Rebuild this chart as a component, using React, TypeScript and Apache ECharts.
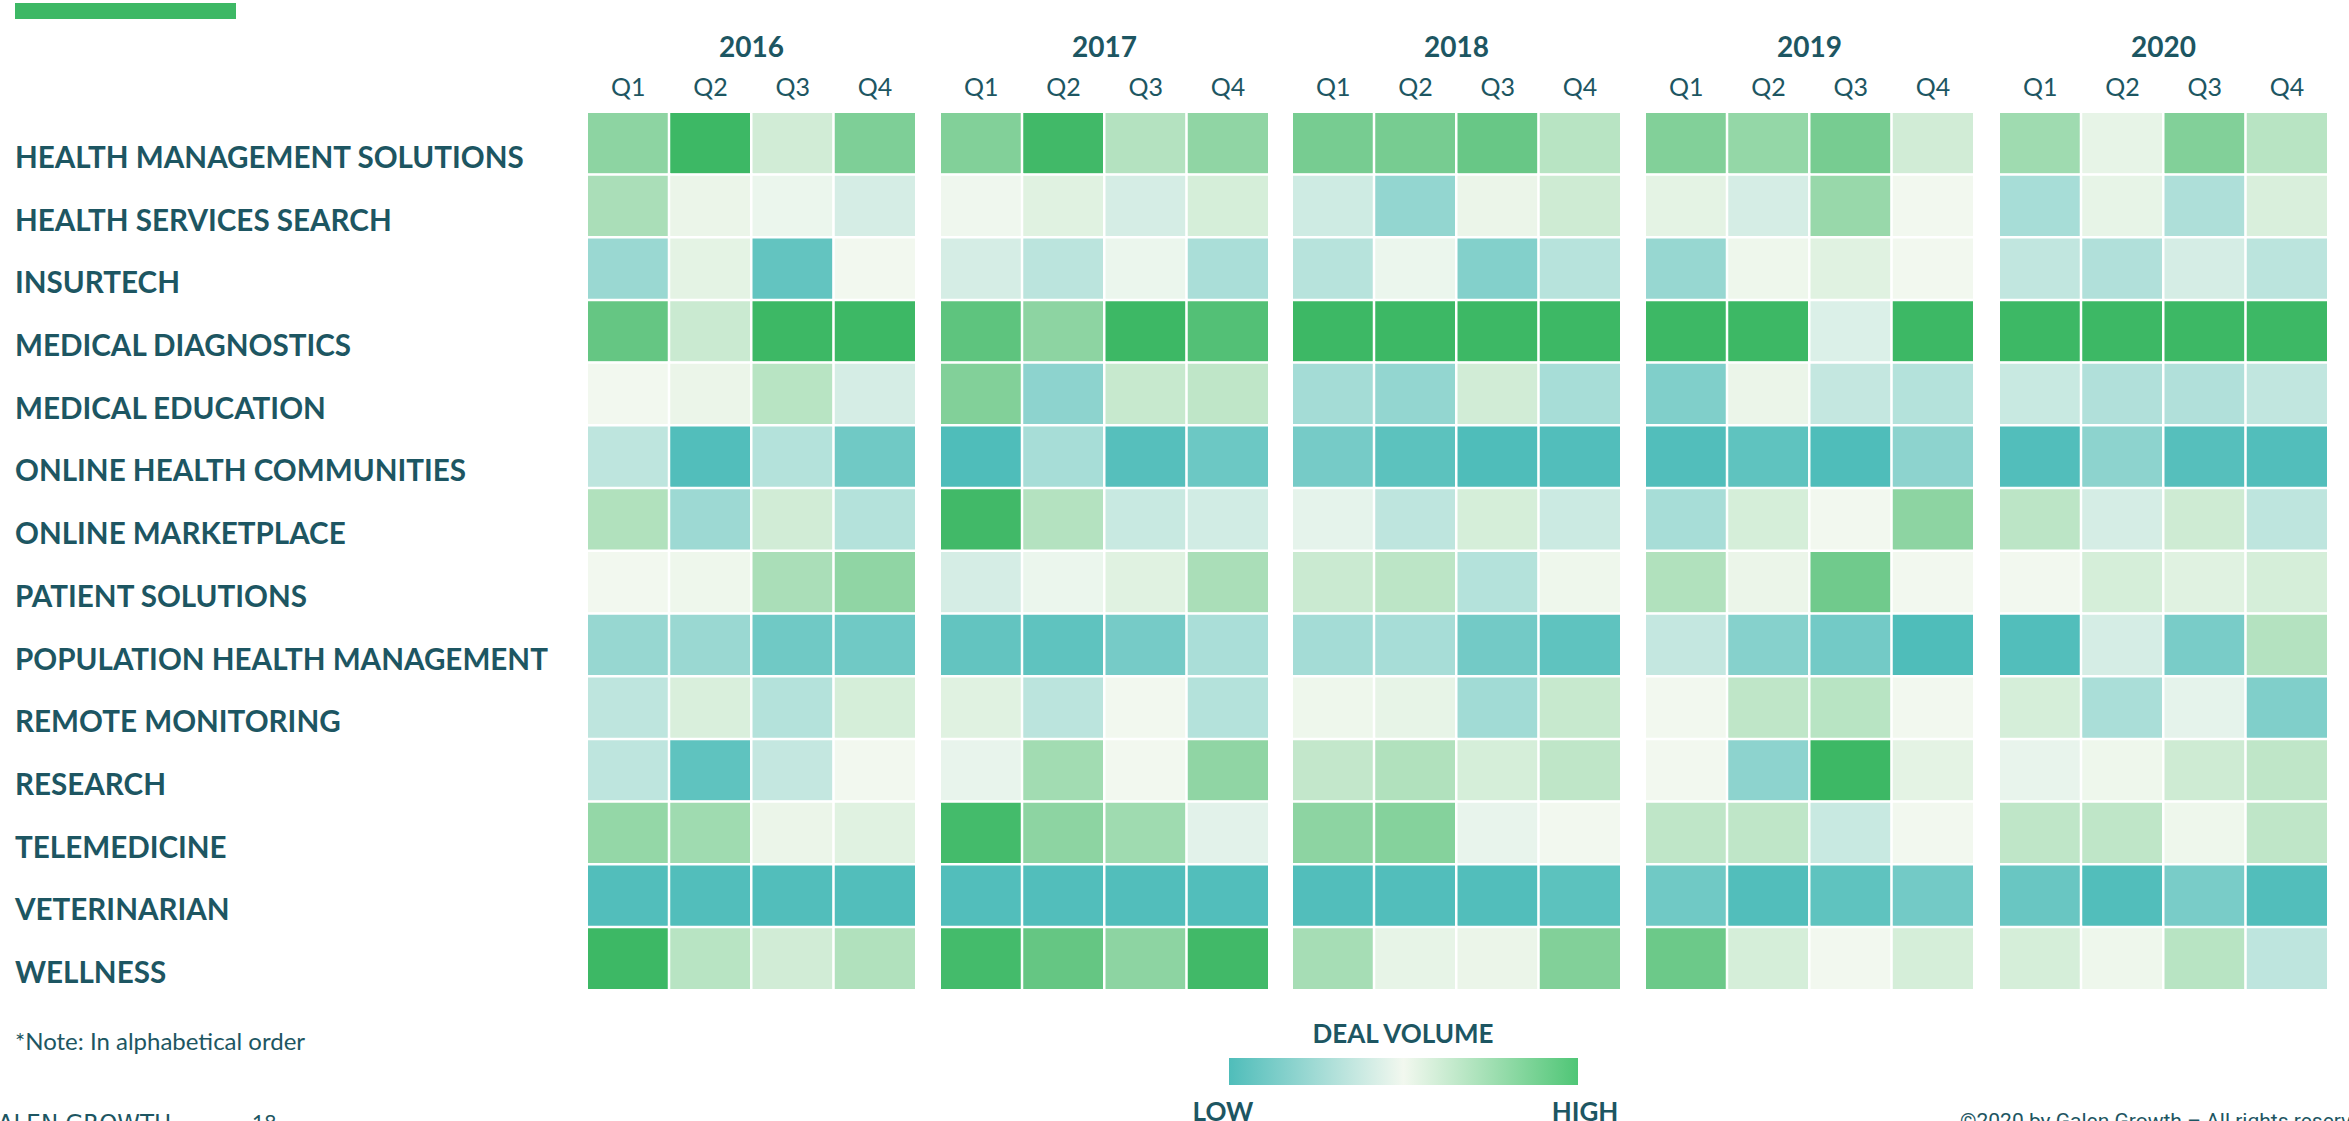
import React, { useEffect, useRef } from "react";
import * as echarts from "echarts";

const years = ["2016", "2017", "2018", "2019", "2020"];
const quarters = ["Q1", "Q2", "Q3", "Q4"];
const sectors = [
  "HEALTH MANAGEMENT SOLUTIONS",
  "HEALTH SERVICES SEARCH",
  "INSURTECH",
  "MEDICAL DIAGNOSTICS",
  "MEDICAL EDUCATION",
  "ONLINE HEALTH COMMUNITIES",
  "ONLINE MARKETPLACE",
  "PATIENT SOLUTIONS",
  "POPULATION HEALTH MANAGEMENT",
  "REMOTE MONITORING",
  "RESEARCH",
  "TELEMEDICINE",
  "VETERINARIAN",
  "WELLNESS",
];

// Relative deal volume index (0 = low, 100 = high), 2016Q1 .. 2020Q4
const healthManagementSolutions = [78, 100, 59, 82, 81, 99, 67, 77, 84, 84, 88, 66, 81, 76, 84, 59, 73, 53, 81, 66];
const healthServicesSearch = [70, 52, 48, 41, 49, 55, 41, 58, 39, 21, 52, 60, 54, 41, 75, 50, 27, 53, 29, 57];
const insurtech = [23, 54, 6, 50, 41, 33, 48, 28, 32, 48, 16, 32, 22, 51, 55, 50, 35, 30, 41, 33];
const medicalDiagnostics = [89, 61, 100, 100, 91, 78, 100, 94, 100, 100, 100, 100, 100, 100, 43, 100, 100, 100, 100, 100];
const medicalEducation = [50, 52, 66, 41, 81, 19, 62, 64, 26, 21, 59, 27, 15, 52, 36, 31, 37, 30, 30, 35];
const onlineHealthCommunities = [34, 1, 31, 10, 0, 27, 2, 9, 12, 4, 0, 1, 1, 5, 0, 19, 1, 19, 2, 1];
const onlineMarketplace = [68, 24, 59, 31, 99, 67, 37, 40, 46, 34, 58, 38, 27, 58, 50, 78, 65, 41, 60, 34];
const patientSolutions = [50, 51, 70, 77, 41, 48, 55, 70, 61, 65, 31, 51, 68, 52, 86, 50, 50, 58, 55, 58];
const populationHealthManagement = [22, 23, 10, 10, 6, 5, 12, 28, 26, 27, 11, 5, 36, 17, 11, 0, 1, 41, 13, 67];
const remoteMonitoring = [34, 57, 31, 58, 55, 33, 50, 31, 51, 53, 25, 62, 50, 64, 66, 50, 58, 28, 46, 15];
const research = [34, 5, 36, 50, 47, 72, 50, 77, 63, 68, 58, 64, 50, 19, 100, 54, 47, 51, 60, 64];
const telemedicine = [76, 73, 52, 55, 98, 78, 73, 45, 78, 80, 47, 50, 64, 64, 37, 50, 64, 64, 51, 64];
const veterinarian = [1, 1, 1, 1, 1, 1, 1, 1, 1, 1, 1, 4, 10, 1, 5, 11, 8, 1, 13, 1];
const wellness = [100, 66, 59, 68, 98, 89, 78, 99, 71, 53, 52, 81, 87, 58, 50, 58, 58, 51, 66, 34];

const sectorValues = [
  healthManagementSolutions,
  healthServicesSearch,
  insurtech,
  medicalDiagnostics,
  medicalEducation,
  onlineHealthCommunities,
  onlineMarketplace,
  patientSolutions,
  populationHealthManagement,
  remoteMonitoring,
  research,
  telemedicine,
  veterinarian,
  wellness,
];

const TEXT = "#1D5662";
const FONT = "Lato";
const LOW_COLOR = "#4FBDBA";
const MID_COLOR = "#F2F8EF";
const HIGH_COLOR = "#3DB865";

export default function App() {
  const ref = useRef<HTMLDivElement>(null);

  useEffect(() => {
    const chart = echarts.init(ref.current!, null, { renderer: "svg" });
    const gridLefts = [587, 940, 1292, 1645, 1999];
    const gridTop = 112;
    const gridHeight = 878;
    const gridWidth = 329;

    const grids = years.map((_, i) => ({
      left: gridLefts[i],
      top: gridTop,
      width: gridWidth,
      height: gridHeight,
    }));

    const xAxes = years.map((y, i) => ({
      type: "category",
      gridIndex: i,
      data: quarters,
      position: "top",
      axisLine: { show: false },
      axisTick: { show: false },
      splitLine: { show: false },
      axisLabel: { fontSize: 25, color: TEXT, fontFamily: FONT, margin: 14 },
      name: y,
      nameLocation: "middle",
      nameGap: 52,
      nameTextStyle: { fontSize: 28, fontWeight: "bold", color: TEXT, fontFamily: FONT },
    }));

    const yAxes = years.map((_, i) => ({
      type: "category",
      gridIndex: i,
      data: sectors,
      inverse: true,
      axisLine: { show: false },
      axisTick: { show: false },
      splitLine: { show: false },
      axisLabel: {
        show: i === 0,
        align: "left",
        margin: gridLefts[0] - 15,
        formatter: (v: string) => "{s|" + v + "}",
        rich: {
          s: {
            fontSize: 29.6,
            fontWeight: "bold",
            color: TEXT,
            fontFamily: FONT,
            padding: [26, 0, 0, 0],
          },
        },
      },
    }));

    const series = years.map((_, yi) => {
      const data: number[][] = [];
      sectors.forEach((_, si) => {
        quarters.forEach((_, qi) => {
          data.push([qi, si, sectorValues[si][yi * 4 + qi]]);
        });
      });
      return {
        type: "heatmap",
        xAxisIndex: yi,
        yAxisIndex: yi,
        data,
        itemStyle: { borderColor: "#ffffff", borderWidth: 2.5 },
        emphasis: { disabled: true },
      };
    });

    chart.setOption({
      animation: false,
      backgroundColor: "#ffffff",
      grid: grids,
      xAxis: xAxes,
      yAxis: yAxes,
      visualMap: {
        show: false,
        type: "continuous",
        min: 0,
        max: 100,
        seriesIndex: [0, 1, 2, 3, 4],
        inRange: { color: [LOW_COLOR, MID_COLOR, HIGH_COLOR] },
      },
      series,
      graphic: [
        { type: "rect", left: 15, top: 3, shape: { width: 221, height: 16 }, style: { fill: HIGH_COLOR } },
        {
          type: "text",
          left: 15,
          top: 1028,
          style: { text: "*Note: In alphabetical order", fontSize: 24, fill: TEXT, fontFamily: FONT },
        },
        {
          type: "text",
          x: 1403,
          y: 1033,
          style: {
            text: "DEAL VOLUME",
            fontSize: 26,
            fontWeight: "bold",
            fill: TEXT,
            fontFamily: FONT,
            align: "center",
            verticalAlign: "middle",
          },
        },
        {
          type: "rect",
          shape: { x: 1229, y: 1058, width: 349, height: 27 },
          style: {
            fill: new echarts.graphic.LinearGradient(0, 0, 1, 0, [
              { offset: 0, color: LOW_COLOR },
              { offset: 0.5, color: MID_COLOR },
              { offset: 1, color: "#4FC676" },
            ]),
          },
        },
        {
          type: "text",
          x: 1223,
          y: 1098,
          style: { text: "LOW", fontSize: 26, fontWeight: "bold", fill: TEXT, fontFamily: FONT, align: "center", verticalAlign: "top" },
        },
        {
          type: "text",
          x: 1585,
          y: 1098,
          style: { text: "HIGH", fontSize: 26, fontWeight: "bold", fill: TEXT, fontFamily: FONT, align: "center", verticalAlign: "top" },
        },
        {
          type: "text",
          x: -20,
          y: 1111,
          style: { text: "GALEN GROWTH", fontSize: 23, fill: TEXT, fontFamily: "DejaVu Sans", verticalAlign: "top" },
        },
        {
          type: "text",
          x: 252,
          y: 1111,
          style: { text: "18", fontSize: 21, fill: TEXT, fontFamily: FONT, verticalAlign: "top" },
        },
        {
          type: "text",
          x: 1960,
          y: 1110,
          style: {
            text: "©2020 by Galen Growth – All rights reserved",
            fontSize: 21,
            fill: TEXT,
            fontFamily: "Roboto",
            verticalAlign: "top",
          },
        },
      ],
    });

    return () => chart.dispose();
  }, []);

  return (
    <div
      ref={ref}
      style={{ position: "fixed", left: 0, top: 0, width: 2349, height: 1121, background: "#ffffff" }}
    />
  );
}
